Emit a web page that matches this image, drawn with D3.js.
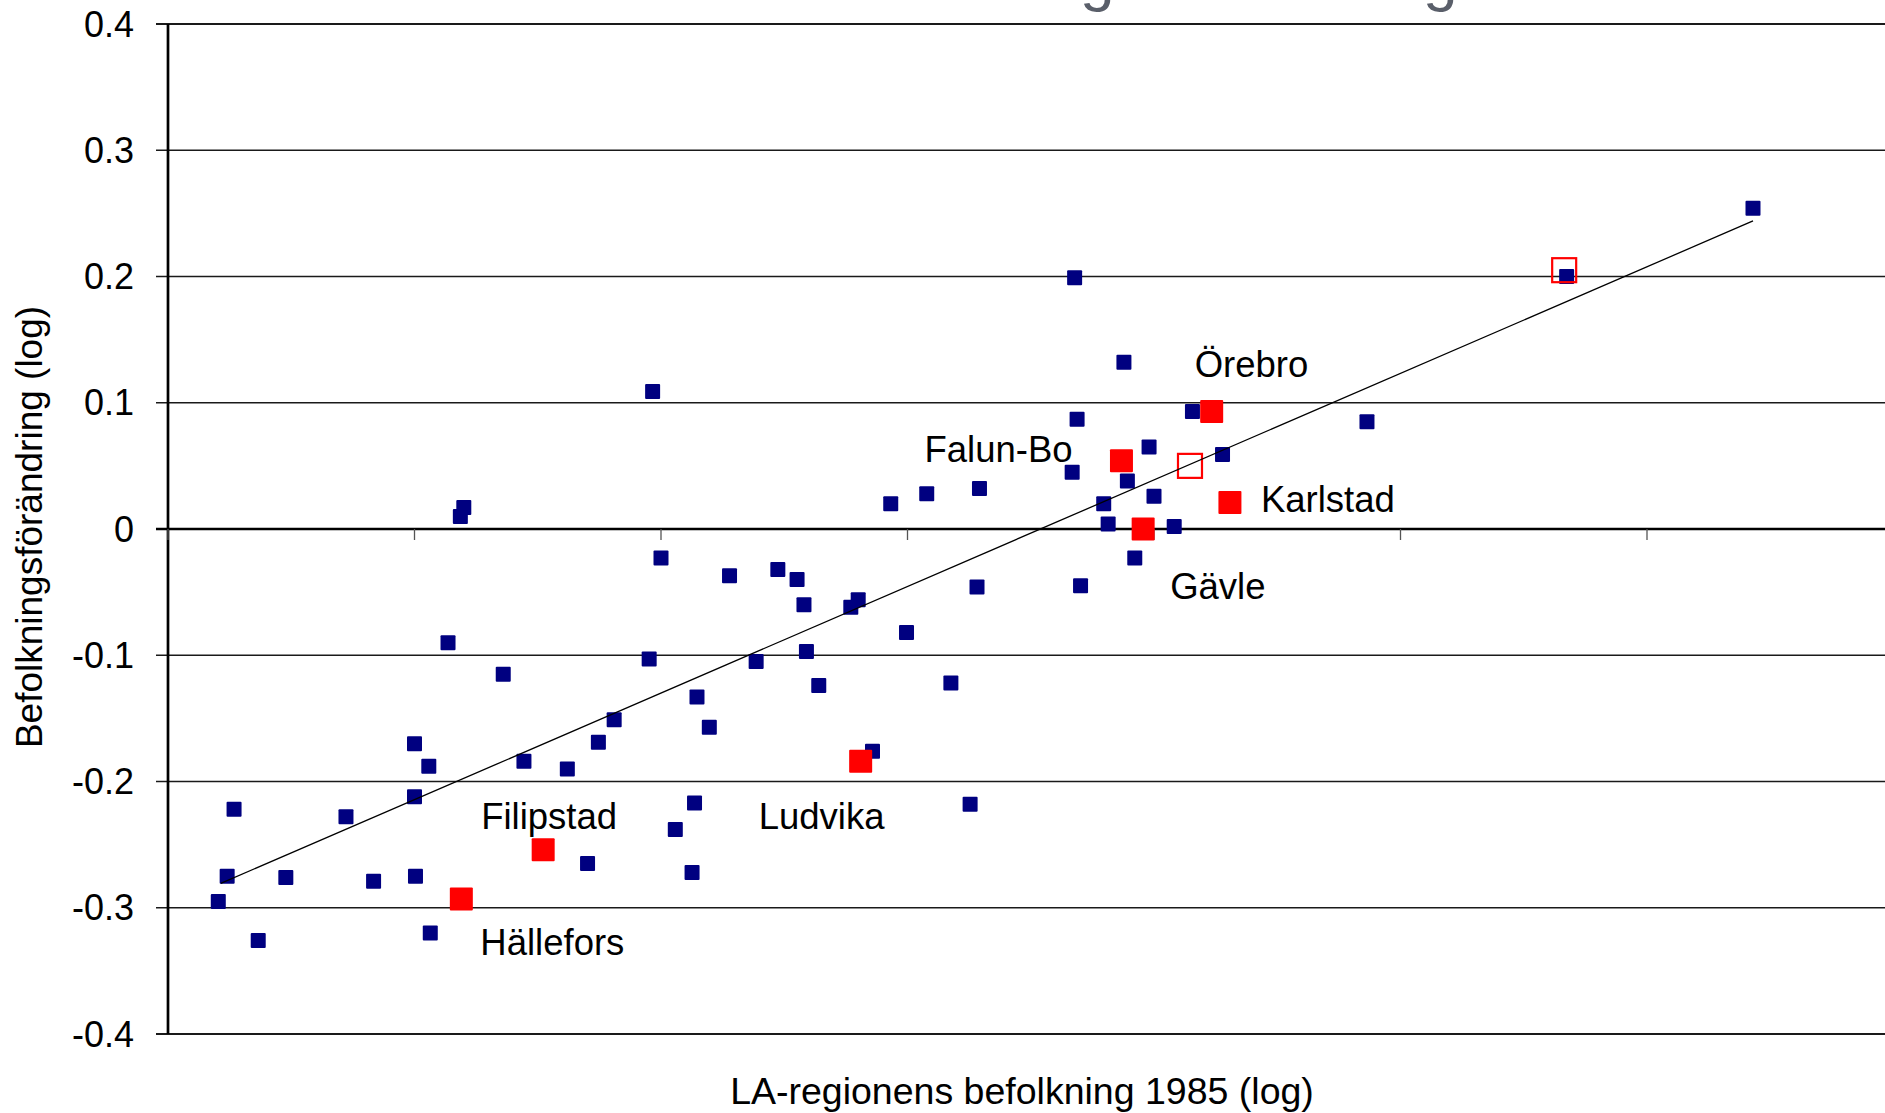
<!DOCTYPE html>
<html>
<head>
<meta charset="utf-8">
<script src="https://cdn.jsdelivr.net/npm/d3@7"></script>
<style>
  html, body { margin: 0; padding: 0; background: #fff; overflow: hidden; }
  svg { display: block; font-family: "Liberation Sans", Arial, sans-serif; }
</style>
</head>
<body>
<svg id="chart" width="1885" height="1113"></svg>
<script>
// ---------------- DATA ----------------
const yTicks = [-0.4, -0.3, -0.2, -0.1, 0, 0.1, 0.2, 0.3, 0.4];
const yTickLabels = ["-0.4", "-0.3", "-0.2", "-0.1", "0", "0.1", "0.2", "0.3", "0.4"];
const xTicks = [3.0, 3.5, 4.0, 4.5, 5.0, 5.5, 6.0, 6.5];

// all LA-regions (x = log population 1985, y = log population change)
const regionX = [3.102, 3.120, 3.134, 3.183, 3.239, 3.361, 3.417, 3.500, 3.500, 3.502,
                 3.529, 3.532, 3.568, 3.593, 3.600, 3.680, 3.722, 3.810, 3.851, 3.873,
                 3.905, 3.976, 3.983, 4.000, 4.029, 4.063, 4.068, 4.073, 4.098, 4.139,
                 4.193, 4.237, 4.276, 4.290, 4.295, 4.320, 4.385, 4.400, 4.429, 4.466,
                 4.498, 4.539, 4.588, 4.627, 4.641, 4.646, 4.834, 4.839, 4.844, 4.851,
                 4.898, 4.907, 4.939, 4.946, 4.961, 4.990, 5.000, 5.041, 5.078, 5.139,
                 5.432, 5.837, 6.215];
const regionY = [-0.295, -0.275, -0.222, -0.326, -0.276, -0.228, -0.279, -0.170, -0.212, -0.275,
                 -0.188, -0.320, -0.090, 0.010, 0.017, -0.115, -0.184, -0.190, -0.265, -0.169,
                 -0.151, -0.103, 0.109, -0.023, -0.238, -0.272, -0.217, -0.133, -0.157, -0.037,
                 -0.105, -0.032, -0.040, -0.060, -0.097, -0.124, -0.062, -0.056, -0.176, 0.020,
                 -0.082, 0.028, -0.122, -0.218, -0.046, 0.032, 0.045, 0.199, 0.087, -0.045,
                 0.020, 0.004, 0.132, 0.038, -0.023, 0.065, 0.026, 0.002, 0.093, 0.059,
                 0.085, 0.200, 0.254];

// highlighted regions
const namedRegions = ["Hällefors", "Filipstad", "Ludvika", "Falun-Bo", "Gävle", "Örebro", "Karlstad"];
const namedX = [3.595, 3.761, 4.405, 4.934, 4.978, 5.117, 5.154];
const namedY = [-0.293, -0.254, -0.184, 0.054, 0.000, 0.093, 0.021];

// hollow red markers
const hollowX = [5.073, 5.832];
const hollowY = [0.050, 0.205];

// trend line end points
const trendX = [3.107, 6.215];
const trendY = [-0.2807, 0.244];

const yAxisTitle = "Befolkningsförändring (log)";
const xAxisTitle = "LA-regionens befolkning 1985 (log)";
const chartTitle = "Befolkningsförändring och storlek";

// ---------------- LAYOUT ----------------
const plotLeft = 168, plotRight = 1893.5, plotTop = 24, plotBottom = 1034;
// label offsets (pixels) relative to their markers
const labelOffsets = {
  "Hällefors": [19, 56], "Filipstad": [-62, -21], "Ludvika": [-102, 68],
  "Falun-Bo": [-197, 1], "Gävle": [27, 70], "Örebro": [-17, -34.5], "Karlstad": [31, 10]
};

const svg = d3.select("#chart");
const x = d3.scaleLinear().domain([3.0, 6.5]).range([plotLeft, plotRight]);
const y = d3.scaleLinear().domain([-0.4, 0.4]).range([plotBottom, plotTop]);

// title (cut off at the top of the image, only descenders visible)
const title = svg.append("text")
  .attr("x", 780).attr("y", -1)
  .attr("font-size", 62).attr("fill", "#5a5f6a")
  .text(chartTitle);
(function fitTitle() {
  const node = title.node();
  const p9 = node.getStartPositionOfChar(9).x;
  const p20 = node.getStartPositionOfChar(20).x;
  const ls = (343 - (p20 - p9)) / 11;
  title.attr("letter-spacing", ls);
  const q9 = node.getStartPositionOfChar(9).x;
  title.attr("x", 780 + (1080 - q9));
})();

// y gridlines
const gy = svg.append("g").attr("class", "grid");
gy.selectAll("line").data(yTicks).join("line")
  .attr("x1", plotLeft - 12).attr("x2", plotRight)
  .attr("y1", d => y(d)).attr("y2", d => y(d))
  .attr("stroke", d => (d === 0 ? "#000" : "#1a1a1a"))
  .attr("stroke-width", d => (d === 0 ? 2.5 : (d === -0.4 || d === 0.4) ? 2.2 : 1.3));

// y tick labels
svg.append("g").selectAll("text").data(yTicks).join("text")
  .attr("x", 134).attr("y", d => y(d))
  .attr("dy", "0.35em")
  .attr("text-anchor", "end")
  .attr("font-size", 36).attr("fill", "#000")
  .text((d, i) => yTickLabels[i]);

// y axis line
svg.append("line")
  .attr("x1", plotLeft).attr("x2", plotLeft)
  .attr("y1", plotTop).attr("y2", plotBottom)
  .attr("stroke", "#000").attr("stroke-width", 2.7);

// x tick marks (on the zero line)
svg.append("g").selectAll("line").data(xTicks).join("line")
  .attr("x1", d => x(d)).attr("x2", d => x(d))
  .attr("y1", y(0)).attr("y2", y(0) + 11)
  .attr("stroke", "#555").attr("stroke-width", 1.3);

// blue markers
const bs = 15;
svg.append("g").selectAll("rect").data(regionX.map((v, i) => [v, regionY[i]])).join("rect")
  .attr("x", d => x(d[0]) - bs / 2).attr("y", d => y(d[1]) - bs / 2)
  .attr("width", bs).attr("height", bs).attr("rx", 1)
  .attr("fill", "#000080");

// red filled markers
const rs = 23;
svg.append("g").selectAll("rect").data(namedX.map((v, i) => [v, namedY[i]])).join("rect")
  .attr("x", d => x(d[0]) - rs / 2).attr("y", d => y(d[1]) - rs / 2)
  .attr("width", rs).attr("height", rs).attr("rx", 1)
  .attr("fill", "#ff0000");

// red hollow markers
const hs = 24;
svg.append("g").selectAll("rect").data(hollowX.map((v, i) => [v, hollowY[i]])).join("rect")
  .attr("x", d => x(d[0]) - hs / 2).attr("y", d => y(d[1]) - hs / 2)
  .attr("width", hs).attr("height", hs)
  .attr("fill", "none").attr("stroke", "#ff0000").attr("stroke-width", 2.2);

// trend line
svg.append("path")
  .datum(trendX.map((v, i) => [v, trendY[i]]))
  .attr("d", d3.line().x(d => x(d[0])).y(d => y(d[1])))
  .attr("fill", "none").attr("stroke", "#000").attr("stroke-width", 1.3);

// labels
svg.append("g").selectAll("text").data(namedRegions).join("text")
  .attr("x", (d, i) => x(namedX[i]) + labelOffsets[d][0])
  .attr("y", (d, i) => y(namedY[i]) + labelOffsets[d][1])
  .attr("font-size", 36.5).attr("fill", "#000")
  .text(d => d);

// axis titles
svg.append("text")
  .attr("transform", "translate(42,527) rotate(-90)")
  .attr("text-anchor", "middle")
  .attr("font-size", 37).attr("fill", "#000")
  .text(yAxisTitle);

svg.append("text")
  .attr("x", 1022).attr("y", 1104)
  .attr("text-anchor", "middle")
  .attr("font-size", 37.5).attr("fill", "#000")
  .text(xAxisTitle);
</script>
</body>
</html>
